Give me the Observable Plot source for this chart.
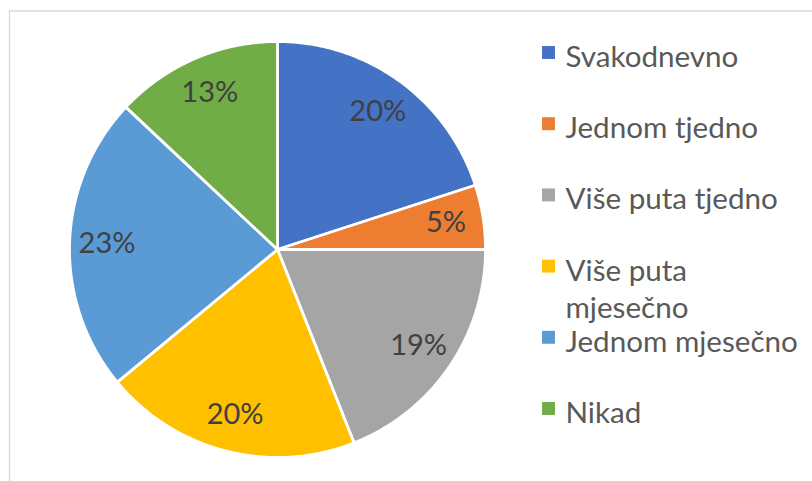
<!DOCTYPE html>
<html>
<head>
<meta charset="utf-8">
<script src="https://cdn.jsdelivr.net/npm/d3@7"></script>
<script src="https://cdn.jsdelivr.net/npm/@observablehq/plot@0.6"></script>
<style>
  html, body { margin: 0; padding: 0; background: #fff; }
  #chart svg { display: block; }
</style>
</head>
<body>
<div id="chart"></div>
<script>
const categories = ["Svakodnevno", "Jednom tjedno", "Više puta tjedno", "Više puta\nmjesečno", "Jednom mjesečno", "Nikad"];
const values = [20, 5, 19, 20, 23, 13];
const labels = ["20%", "5%", "19%", "20%", "23%", "13%"];
const colors = ["#4472C4", "#ED7D31", "#A5A5A5", "#FFC000", "#5B9BD5", "#70AD47"];

const W = 812, H = 481;
const cx = 277, cy = 249, R = 208;
const labelR = 0.82 * R;

const data = categories.map((c, i) => ({cat: c, value: values[i], label: labels[i], color: colors[i], i}));
const arcs = d3.pie().sort(null).value(d => d.value).startAngle(0).endAngle(2 * Math.PI)(data);

// polygon points per slice
const slicePts = [];
arcs.forEach(a => {
  const n = Math.max(2, Math.ceil((a.endAngle - a.startAngle) / 0.01));
  slicePts.push({cat: a.data.cat, x: cx, y: cy});
  for (let k = 0; k <= n; k++) {
    const t = a.startAngle + (a.endAngle - a.startAngle) * k / n;
    slicePts.push({cat: a.data.cat, x: cx + R * Math.sin(t), y: cy - R * Math.cos(t)});
  }
  slicePts.push({cat: a.data.cat, x: cx, y: cy});
});

const labelPts = arcs.map(a => {
  const m = (a.startAngle + a.endAngle) / 2;
  return {label: a.data.label, x: cx + labelR * Math.sin(m), y: cy - labelR * Math.cos(m)};
});

const legend = data.map((d, i) => ({cat: d.cat, y: 52 + i * 71.2}));

const fs = 29;
const lfs = 29.6;
const chart = Plot.plot({
  width: W,
  height: H,
  margin: 0,
  style: {fontFamily: "Lato, sans-serif", background: "#fff"},
  x: {domain: [0, W], range: [0, W], axis: null},
  y: {domain: [0, H], range: [0, H], axis: null},
  color: {domain: categories, range: colors},
  marks: [
    Plot.ruleX([9], {y1: 10.5, y2: H, stroke: "#d9d9d9", strokeWidth: 1.3}),
    Plot.ruleY([10.5], {x1: 9, x2: W, stroke: "#d9d9d9", strokeWidth: 1.3}),
    Plot.line(slicePts, {x: "x", y: "y", z: "cat", fill: "cat", stroke: "#fff", strokeWidth: 2.8, strokeLinejoin: "round", curve: "linear"}),
    Plot.text(labelPts, {x: "x", y: "y", text: "label", fill: "#404040", fontSize: fs, textAnchor: "middle", lineAnchor: "middle"}),
    Plot.dot(legend, {x: 548, y: "y", fill: "cat", symbol: "square", r: 7.3, stroke: null}),
    Plot.text(legend, {x: 565, y: "y", text: "cat", fill: "#595959", fontSize: lfs, textAnchor: "start", lineAnchor: "top", dy: -0.4 * lfs, lineHeight: 1.25})
  ]
});
document.getElementById("chart").appendChild(chart);
</script>
</body>
</html>
